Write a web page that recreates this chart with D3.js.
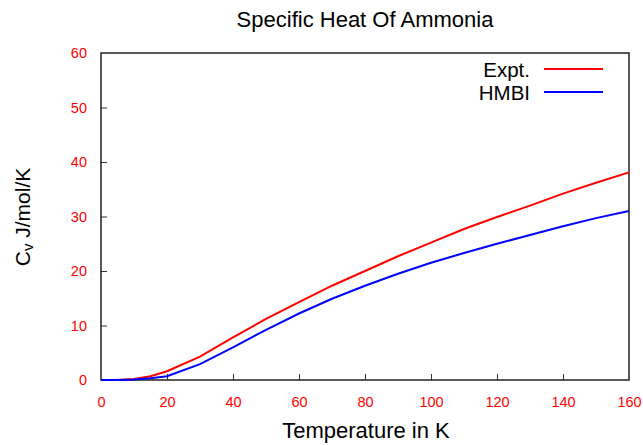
<!DOCTYPE html>
<html>
<head>
<meta charset="utf-8">
<script src="https://cdn.jsdelivr.net/npm/d3@7"></script>
<style>
  body { margin: 0; background: #fff; }
  svg text { font-family: "Liberation Sans", Arial, sans-serif; }
</style>
</head>
<body>
<div id="chart"></div>
<script>
// data
var temps = [0, 5, 10, 15, 20, 30, 40, 50, 60, 70, 80, 90, 100, 110, 120, 130, 140, 150, 160];
var expt  = [0, 0.02, 0.2, 0.7, 1.6, 4.3, 7.8, 11.2, 14.3, 17.3, 20.0, 22.7, 25.2, 27.7, 29.9, 32.0, 34.2, 36.2, 38.1];
var hmbi  = [0, 0.01, 0.08, 0.3, 0.7, 2.9, 6.0, 9.2, 12.2, 14.9, 17.3, 19.5, 21.5, 23.3, 25.0, 26.6, 28.2, 29.7, 31.0];
var xTicks = [0, 20, 40, 60, 80, 100, 120, 140, 160];
var yTicks = [0, 10, 20, 30, 40, 50, 60];
var seriesNames = ["Expt.", "HMBI"];
var seriesColors = ["#ff0000", "#0000ff"];

var margin = { top: 53, right: 14, bottom: 65, left: 101 },
    width = 643 - margin.left - margin.right,
    height = 445 - margin.top - margin.bottom;

var svg = d3.select("#chart").append("svg")
    .attr("width", 643).attr("height", 445);

var g = svg.append("g")
    .attr("transform", "translate(" + margin.left + "," + margin.top + ")");

var xScale = d3.scaleLinear().domain([0, 160]).range([0, width]);
var yScale = d3.scaleLinear().domain([0, 60]).range([height, 0]);

// axes with inward ticks
var xAxis = d3.axisBottom(xScale).tickValues(xTicks).tickSizeInner(-6).tickSizeOuter(0).tickPadding(17);
var yAxis = d3.axisLeft(yScale).tickValues(yTicks).tickSizeInner(-6).tickSizeOuter(0).tickPadding(14);

var xNode = g.append("g").attr("transform", "translate(0," + height + ")").call(xAxis);
var yNode = g.append("g").call(yAxis);
[xNode, yNode].forEach(function (n) {
    n.select(".domain").remove();
    n.selectAll("line").attr("stroke", "#333").attr("stroke-width", 1);
    n.selectAll("text").attr("fill", "#ff0000").style("font-size", "14.5px");
});
yNode.selectAll(".tick").filter(function (d) { return d === 60; }).select("line").remove();
xNode.selectAll(".tick").filter(function (d) { return d === 0 || d === 160; }).select("line").remove();

// frame
g.append("rect")
    .attr("width", width).attr("height", height)
    .attr("fill", "none").attr("stroke", "#222").attr("stroke-width", 1.5);

var line = d3.line()
    .x(function (d) { return xScale(d[0]); })
    .y(function (d) { return yScale(d[1]); });

[expt, hmbi].forEach(function (vals, i) {
    g.append("path")
        .datum(temps.map(function (t, j) { return [t, vals[j]]; }))
        .attr("fill", "none")
        .attr("stroke", seriesColors[i])
        .attr("stroke-width", 2)
        .attr("d", line);
});

// legend
var legend = g.append("g").attr("transform", "translate(" + (width - 85) + ",16)");
seriesNames.forEach(function (name, i) {
    var row = legend.append("g").attr("transform", "translate(0," + (i * 23) + ")");
    row.append("text").attr("x", -14).attr("y", 7.5)
        .attr("text-anchor", "end").style("font-size", "20.5px").text(name);
    row.append("line").attr("x1", 0).attr("x2", 59)
        .attr("stroke", seriesColors[i]).attr("stroke-width", 2);
});

// title and axis labels
svg.append("text").attr("x", 365).attr("y", 27)
    .attr("text-anchor", "middle").style("font-size", "22px")
    .text("Specific Heat Of Ammonia");

svg.append("text").attr("x", 366).attr("y", 438)
    .attr("text-anchor", "middle").style("font-size", "22px")
    .text("Temperature in K");

var yl = svg.append("text")
    .attr("transform", "translate(30,217) rotate(-90)")
    .attr("text-anchor", "middle").style("font-size", "21px");
yl.append("tspan").text("C");
yl.append("tspan").attr("dy", 3).style("font-size", "15px").text("v");
yl.append("tspan").attr("dy", -3).text(" J/mol/K");
</script>
</body>
</html>
